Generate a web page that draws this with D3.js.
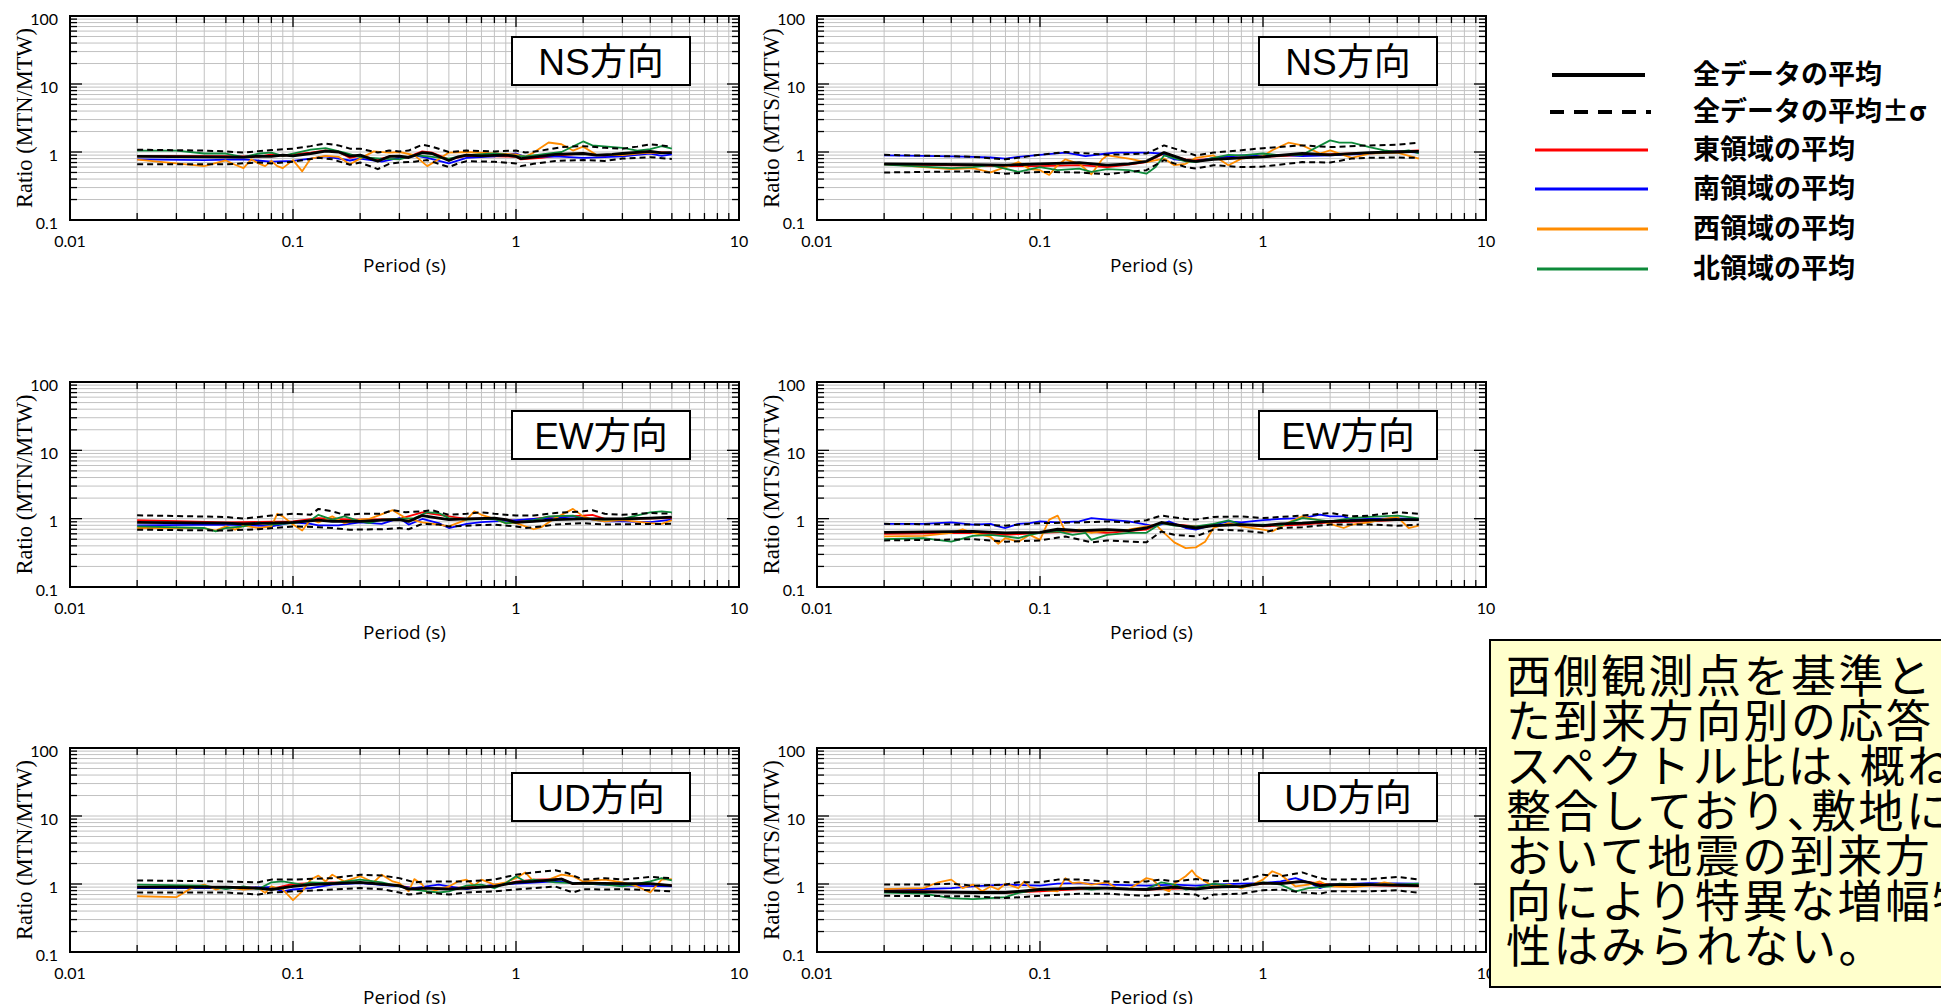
<!DOCTYPE html>
<html><head><meta charset="utf-8">
<script src="https://cdn.jsdelivr.net/npm/d3@7"></script>
<style>
html,body{margin:0;padding:0;background:#fff;}
svg{display:block;}
</style></head><body>
<svg id="c" width="1941" height="1004"></svg>
<script>
// ---------------- DATA (period [s], ratio) ----------------
const xTickVals = [0.01, 0.1, 1, 10];
const xTickLabels = ["0.01", "0.1", "1", "10"];
const yTickVals = [0.1, 1, 10, 100];
const yTickLabels = ["0.1", "1", "10", "100"];
const directions = ["NS方向", "EW方向", "UD方向"];
const yTitles = ["Ratio (MTN/MTW)", "Ratio (MTS/MTW)"];
const xTitle = "Period (s)";
const legendLabels = ["全データの平均", "全データの平均±σ", "東領域の平均", "南領域の平均", "西領域の平均", "北領域の平均"];
const noteLines = ["西側観測点を基準とし", "た到来方向別の応答", "スペクトル比は、概ね", "整合しており、敷地に", "おいて地震の到来方", "向により特異な増幅特", "性はみられない。"];

// NS, MTN/MTW
const nsN_mean = [[0.02,0.86],[0.04,0.85],[0.06,0.84],[0.07,0.87],[0.08,0.86],[0.09,0.9],[0.1,0.88],[0.12,0.95],[0.14,1.03],[0.16,1.0],[0.18,0.87],[0.2,0.9],[0.24,0.73],[0.27,0.86],[0.3,0.87],[0.33,0.83],[0.38,0.98],[0.42,0.95],[0.5,0.75],[0.55,0.85],[0.6,0.9],[0.7,0.88],[0.8,0.89],[0.9,0.9],[1.0,0.86],[1.05,0.8],[1.2,0.84],[1.5,0.92],[2.0,0.95],[2.3,0.9],[2.7,0.92],[3.0,0.95],[4.0,1.02],[4.5,0.97],[5.0,0.98]];
const nsN_plus = [[0.02,1.08],[0.04,1.05],[0.05,1.02],[0.06,0.98],[0.07,1.03],[0.08,1.07],[0.1,1.12],[0.12,1.22],[0.14,1.33],[0.16,1.25],[0.18,1.12],[0.2,1.12],[0.24,0.98],[0.27,1.05],[0.3,1.02],[0.33,1.05],[0.38,1.28],[0.42,1.2],[0.5,1.0],[0.6,1.05],[0.8,1.02],[1.0,1.05],[1.1,0.98],[1.3,1.05],[1.6,1.18],[2.0,1.22],[2.5,1.15],[3.0,1.12],[3.5,1.2],[4.0,1.3],[4.5,1.25],[5.0,1.2]];
const nsN_minus = [[0.02,0.66],[0.05,0.66],[0.07,0.7],[0.08,0.68],[0.1,0.72],[0.13,0.82],[0.15,0.78],[0.18,0.65],[0.2,0.7],[0.24,0.56],[0.27,0.67],[0.3,0.7],[0.35,0.72],[0.4,0.76],[0.5,0.6],[0.55,0.68],[0.6,0.73],[0.8,0.72],[1.0,0.68],[1.05,0.62],[1.2,0.67],[1.5,0.74],[2.0,0.76],[2.5,0.74],[3.0,0.8],[4.0,0.84],[5.0,0.79]];
const nsN_east = [[0.02,0.88],[0.05,0.87],[0.07,0.85],[0.08,0.92],[0.09,0.88],[0.1,0.92],[0.12,0.98],[0.14,1.06],[0.16,1.0],[0.18,0.82],[0.2,0.88],[0.24,0.78],[0.28,0.88],[0.32,0.82],[0.38,1.02],[0.42,0.98],[0.5,0.78],[0.6,0.88],[0.8,0.86],[1.0,0.85],[1.05,0.78],[1.3,0.82],[1.6,0.9],[2.0,0.95],[2.5,0.88],[3.0,0.92],[4.0,1.0],[5.0,0.98]];
const nsN_south = [[0.02,0.78],[0.04,0.76],[0.06,0.78],[0.08,0.72],[0.1,0.74],[0.12,0.8],[0.14,0.86],[0.18,0.75],[0.2,0.8],[0.25,0.72],[0.3,0.82],[0.36,0.88],[0.4,0.82],[0.5,0.68],[0.6,0.82],[0.8,0.86],[1.0,0.95],[1.1,0.85],[1.5,0.86],[2.0,0.82],[2.5,0.84],[3.0,0.86],[4.0,0.95],[4.5,0.88],[5.0,0.92]];
const nsN_west = [[0.02,0.77],[0.03,0.68],[0.04,0.62],[0.05,0.75],[0.055,0.65],[0.06,0.58],[0.065,0.78],[0.07,0.68],[0.075,0.62],[0.08,0.74],[0.085,0.62],[0.09,0.58],[0.1,0.76],[0.11,0.52],[0.12,0.8],[0.14,0.88],[0.16,0.85],[0.18,0.66],[0.2,0.8],[0.23,1.02],[0.27,0.98],[0.3,1.0],[0.35,0.9],[0.4,0.62],[0.45,0.78],[0.5,0.98],[0.6,1.0],[0.8,0.95],[1.0,0.92],[1.1,0.85],[1.2,0.98],[1.4,1.38],[1.6,1.3],[1.8,1.05],[2.0,1.2],[2.3,0.9],[3.0,0.9],[3.5,0.95],[4.0,0.98],[5.0,0.97]];
const nsN_north = [[0.02,1.05],[0.03,1.05],[0.04,0.95],[0.05,0.95],[0.06,0.84],[0.07,0.95],[0.08,0.98],[0.09,0.88],[0.1,0.95],[0.12,1.08],[0.14,1.14],[0.17,0.98],[0.2,0.84],[0.25,0.8],[0.3,0.78],[0.35,0.9],[0.4,0.86],[0.5,0.8],[0.6,0.9],[0.8,0.95],[1.0,0.88],[1.1,0.86],[1.3,0.92],[1.6,1.0],[2.0,1.43],[2.2,1.25],[3.0,1.15],[3.5,1.05],[4.0,1.1],[4.5,1.22],[5.0,1.12]];

// NS, MTS/MTW
const nsS_mean = [[0.02,0.67],[0.05,0.65],[0.07,0.64],[0.1,0.67],[0.15,0.7],[0.2,0.64],[0.25,0.67],[0.3,0.73],[0.36,0.98],[0.45,0.76],[0.5,0.73],[0.6,0.78],[0.8,0.82],[1.0,0.85],[1.5,0.95],[2.0,0.91],[3.0,0.98],[4.0,1.0],[5.0,1.02]];
const nsS_plus = [[0.02,0.91],[0.05,0.85],[0.07,0.78],[0.1,0.91],[0.13,1.0],[0.2,0.91],[0.3,0.95],[0.36,1.25],[0.45,1.0],[0.5,0.89],[0.6,0.98],[0.8,1.06],[1.0,1.14],[1.5,1.25],[2.0,1.18],[3.0,1.25],[4.0,1.28],[5.0,1.37]];
const nsS_minus = [[0.02,0.5],[0.05,0.52],[0.07,0.48],[0.1,0.51],[0.15,0.5],[0.2,0.47],[0.25,0.51],[0.3,0.54],[0.36,0.76],[0.45,0.6],[0.5,0.57],[0.6,0.64],[0.8,0.6],[1.0,0.61],[1.5,0.71],[2.0,0.7],[2.5,0.8],[3.0,0.82],[4.0,0.83],[5.0,0.82]];
const nsS_east = [[0.02,0.66],[0.05,0.63],[0.07,0.62],[0.1,0.62],[0.15,0.64],[0.2,0.6],[0.25,0.65],[0.3,0.71],[0.36,0.95],[0.45,0.78],[0.5,0.76],[0.6,0.8],[0.8,0.83],[1.0,0.85],[1.5,0.9],[2.0,0.93],[3.0,0.97],[4.0,1.02],[5.0,1.06]];
const nsS_south = [[0.02,0.89],[0.03,0.88],[0.04,0.86],[0.05,0.85],[0.06,0.83],[0.07,0.8],[0.08,0.85],[0.1,0.91],[0.13,0.98],[0.16,0.87],[0.2,0.95],[0.22,0.98],[0.3,0.98],[0.35,0.95],[0.4,0.78],[0.5,0.73],[0.6,0.82],[0.8,0.89],[1.0,0.87],[1.2,0.91],[1.5,0.87],[2.0,0.89],[3.0,0.95],[4.0,1.02],[5.0,0.98]];
const nsS_west = [[0.02,0.67],[0.03,0.6],[0.04,0.56],[0.05,0.58],[0.06,0.5],[0.07,0.6],[0.08,0.71],[0.09,0.56],[0.1,0.54],[0.11,0.46],[0.12,0.64],[0.13,0.78],[0.15,0.67],[0.17,0.47],[0.19,0.78],[0.2,0.89],[0.25,0.8],[0.3,0.71],[0.36,0.8],[0.4,0.64],[0.45,0.67],[0.5,0.82],[0.6,0.89],[0.7,0.64],[0.8,0.8],[1.0,0.87],[1.1,1.06],[1.3,1.37],[1.5,1.25],[1.8,0.95],[2.0,1.06],[2.5,0.82],[3.0,0.95],[4.0,0.98],[5.0,0.8]];
const nsS_north = [[0.02,0.65],[0.04,0.58],[0.05,0.6],[0.06,0.64],[0.08,0.51],[0.1,0.6],[0.12,0.54],[0.15,0.57],[0.17,0.51],[0.2,0.56],[0.25,0.54],[0.3,0.48],[0.33,0.6],[0.36,0.89],[0.45,0.73],[0.5,0.71],[0.6,0.82],[0.7,0.91],[0.8,0.89],[1.0,0.95],[1.2,0.89],[1.5,0.91],[2.0,1.48],[2.2,1.37],[2.5,1.37],[3.0,1.18],[3.5,1.06],[4.0,1.0],[4.5,1.06],[5.0,0.95]];

// EW, MTN/MTW
const ewN_mean = [[0.02,0.88],[0.05,0.86],[0.06,0.84],[0.1,0.88],[0.13,0.95],[0.15,0.91],[0.2,0.91],[0.25,0.95],[0.3,0.97],[0.33,0.91],[0.38,1.11],[0.45,1.02],[0.5,0.97],[0.6,0.99],[0.8,1.02],[0.9,0.97],[1.0,0.88],[1.2,0.91],[1.5,0.97],[2.0,0.99],[3.0,0.99],[4.0,1.02],[5.0,1.05]];
const ewN_plus = [[0.02,1.12],[0.05,1.06],[0.06,1.0],[0.08,1.11],[0.1,1.18],[0.12,1.14],[0.13,1.39],[0.15,1.28],[0.17,1.14],[0.2,1.18],[0.25,1.18],[0.28,1.33],[0.32,1.24],[0.38,1.28],[0.42,1.33],[0.5,1.14],[0.6,1.18],[0.7,1.24],[0.8,1.18],[1.0,1.11],[1.2,1.11],[1.5,1.21],[2.0,1.28],[2.2,1.33],[2.5,1.18],[3.0,1.14],[4.0,1.21],[5.0,1.18]];
const ewN_minus = [[0.02,0.69],[0.05,0.67],[0.07,0.7],[0.1,0.77],[0.13,0.75],[0.15,0.73],[0.18,0.69],[0.25,0.7],[0.3,0.73],[0.33,0.7],[0.38,0.84],[0.45,0.82],[0.5,0.77],[0.6,0.79],[0.8,0.82],[1.0,0.77],[1.1,0.73],[1.3,0.77],[1.5,0.82],[2.0,0.86],[2.5,0.82],[3.0,0.83],[5.0,0.84]];
const ewN_east = [[0.02,0.95],[0.05,0.88],[0.07,0.9],[0.1,0.91],[0.13,1.02],[0.15,0.99],[0.2,0.97],[0.3,0.99],[0.38,1.24],[0.5,1.08],[0.6,0.99],[0.8,1.01],[1.0,0.93],[1.5,1.08],[2.0,1.11],[2.2,1.14],[2.5,0.99],[3.0,0.99],[5.0,1.02]];
const ewN_south = [[0.02,0.8],[0.05,0.82],[0.07,0.79],[0.08,0.77],[0.1,0.88],[0.12,0.84],[0.13,0.8],[0.16,0.8],[0.2,0.88],[0.25,0.84],[0.3,1.02],[0.33,0.82],[0.38,0.99],[0.45,0.86],[0.5,0.73],[0.6,0.84],[0.7,0.89],[0.8,0.91],[1.0,0.95],[1.2,0.99],[1.5,1.02],[1.8,1.08],[2.0,1.02],[2.5,0.91],[3.0,0.91],[4.0,0.89],[5.0,0.97]];
const ewN_west = [[0.02,0.73],[0.04,0.73],[0.045,0.67],[0.05,0.77],[0.055,0.69],[0.06,0.79],[0.07,0.73],[0.08,0.77],[0.085,1.18],[0.09,1.08],[0.1,0.82],[0.11,0.67],[0.12,0.97],[0.13,0.88],[0.15,1.08],[0.17,0.86],[0.2,0.97],[0.22,0.99],[0.28,1.33],[0.32,1.02],[0.38,0.88],[0.45,0.82],[0.5,0.77],[0.6,0.97],[0.65,1.28],[0.7,1.14],[0.8,0.99],[0.9,0.86],[1.0,0.86],[1.2,0.7],[1.3,0.75],[1.5,1.02],[1.8,1.39],[2.0,1.08],[2.2,0.97],[2.5,0.91],[3.0,0.95],[4.0,0.86],[4.5,0.84],[5.0,0.95]];
const ewN_north = [[0.02,0.77],[0.04,0.73],[0.045,0.65],[0.05,0.73],[0.06,0.77],[0.07,0.88],[0.08,0.82],[0.1,0.86],[0.12,0.95],[0.13,1.14],[0.15,0.97],[0.17,1.08],[0.2,0.91],[0.22,0.86],[0.25,0.97],[0.3,0.99],[0.35,1.02],[0.4,1.24],[0.45,1.21],[0.5,1.02],[0.6,0.97],[0.8,0.99],[0.9,0.86],[1.0,0.88],[1.2,0.95],[1.4,1.08],[1.8,1.11],[2.0,0.99],[2.5,0.97],[3.0,0.99],[4.0,1.24],[4.5,1.28],[5.0,1.24]];

// EW, MTS/MTW
const ewS_mean = [[0.02,0.63],[0.05,0.65],[0.07,0.62],[0.1,0.63],[0.12,0.7],[0.15,0.67],[0.2,0.69],[0.25,0.67],[0.3,0.73],[0.35,0.88],[0.4,0.82],[0.5,0.73],[0.6,0.79],[0.8,0.82],[1.0,0.79],[1.2,0.84],[1.5,0.86],[2.0,0.91],[3.0,0.95],[4.0,0.97],[5.0,0.97]];
const ewS_plus = [[0.02,0.84],[0.05,0.82],[0.07,0.79],[0.1,0.86],[0.15,0.88],[0.2,0.91],[0.25,0.88],[0.3,0.95],[0.35,1.11],[0.45,0.99],[0.5,0.97],[0.6,1.06],[0.8,1.08],[1.0,1.02],[1.5,1.11],[2.0,1.21],[2.5,1.08],[3.0,1.11],[4.0,1.24],[5.0,1.18]];
const ewS_minus = [[0.02,0.48],[0.05,0.5],[0.07,0.46],[0.1,0.48],[0.13,0.55],[0.17,0.45],[0.2,0.48],[0.3,0.45],[0.35,0.65],[0.4,0.58],[0.5,0.55],[0.6,0.69],[0.8,0.67],[1.0,0.62],[1.2,0.73],[1.5,0.75],[2.0,0.82],[3.0,0.82],[4.0,0.79],[5.0,0.82]];
const ewS_east = [[0.02,0.6],[0.05,0.62],[0.07,0.58],[0.1,0.62],[0.15,0.65],[0.2,0.62],[0.3,0.69],[0.35,0.86],[0.5,0.77],[0.8,0.82],[1.0,0.77],[1.5,0.82],[2.0,0.88],[3.0,0.91],[5.0,0.99]];
const ewS_south = [[0.02,0.84],[0.03,0.84],[0.04,0.88],[0.05,0.82],[0.06,0.84],[0.065,0.77],[0.07,0.73],[0.08,0.84],[0.09,0.86],[0.1,0.91],[0.12,0.88],[0.15,0.91],[0.17,1.02],[0.2,0.97],[0.25,0.91],[0.3,0.82],[0.33,0.77],[0.38,0.91],[0.45,0.73],[0.5,0.69],[0.6,0.82],[0.7,0.91],[0.8,0.88],[1.0,0.95],[1.2,0.99],[1.5,1.02],[1.8,1.15],[2.0,1.08],[2.3,1.08],[2.5,0.97],[3.0,0.99],[4.0,1.01],[5.0,0.99]];
const ewS_west = [[0.02,0.55],[0.03,0.56],[0.04,0.62],[0.045,0.7],[0.05,0.62],[0.06,0.54],[0.065,0.43],[0.07,0.52],[0.08,0.46],[0.09,0.58],[0.1,0.49],[0.11,0.97],[0.12,1.11],[0.13,0.65],[0.15,0.69],[0.17,0.62],[0.2,0.67],[0.25,0.69],[0.3,0.77],[0.33,0.82],[0.36,0.62],[0.4,0.45],[0.45,0.37],[0.5,0.38],[0.55,0.46],[0.6,0.73],[0.7,0.86],[0.8,0.77],[1.0,0.69],[1.1,0.65],[1.3,0.88],[1.5,1.08],[1.8,0.945],[2.0,0.84],[2.3,0.73],[2.5,0.82],[3.0,0.88],[3.5,0.99],[4.0,1.06],[4.5,0.73],[5.0,0.79]];
const ewS_north = [[0.02,0.5],[0.03,0.52],[0.04,0.46],[0.05,0.56],[0.06,0.58],[0.07,0.55],[0.08,0.52],[0.09,0.58],[0.1,0.62],[0.12,0.65],[0.14,0.58],[0.16,0.62],[0.17,0.49],[0.2,0.58],[0.25,0.62],[0.3,0.62],[0.35,0.86],[0.4,0.79],[0.5,0.77],[0.6,0.84],[0.7,0.945],[0.8,0.82],[1.0,0.82],[1.2,0.79],[1.5,1.02],[2.0,0.91],[2.5,1.02],[3.0,1.06],[4.0,1.11],[5.0,1.01]];

// UD, MTN/MTW
const udN_mean = [[0.02,0.9],[0.05,0.9],[0.07,0.87],[0.08,0.83],[0.1,0.92],[0.12,0.98],[0.15,1.01],[0.2,1.06],[0.3,0.945],[0.33,0.84],[0.4,0.87],[0.5,0.84],[0.6,0.87],[0.8,0.92],[1.0,1.06],[1.2,1.09],[1.5,1.16],[1.6,1.18],[1.8,1.01],[2.0,1.03],[3.0,1.01],[4.0,1.01],[5.0,0.945]];
const udN_plus = [[0.02,1.13],[0.05,1.09],[0.07,1.06],[0.08,1.16],[0.1,1.16],[0.15,1.22],[0.2,1.37],[0.25,1.33],[0.3,1.22],[0.35,1.06],[0.4,1.09],[0.5,1.09],[0.6,1.09],[0.8,1.16],[1.0,1.37],[1.2,1.48],[1.5,1.59],[1.7,1.45],[2.0,1.16],[2.5,1.22],[3.0,1.16],[4.0,1.27],[5.0,1.22]];
const udN_minus = [[0.02,0.75],[0.05,0.75],[0.07,0.7],[0.08,0.75],[0.1,0.78],[0.15,0.83],[0.2,0.87],[0.25,0.84],[0.3,0.75],[0.33,0.7],[0.4,0.75],[0.5,0.7],[0.6,0.75],[0.8,0.78],[1.0,0.83],[1.2,0.87],[1.5,0.92],[1.8,0.75],[2.0,0.84],[2.5,0.83],[3.0,0.84],[4.0,0.81],[5.0,0.78]];
const udN_east = [[0.02,0.9],[0.05,0.9],[0.07,0.88],[0.08,0.85],[0.1,1.0],[0.15,1.06],[0.2,1.04],[0.3,0.95],[0.35,0.86],[0.5,0.87],[0.6,0.9],[0.8,0.93],[1.0,1.08],[1.2,1.16],[1.5,1.18],[1.6,1.2],[1.8,1.0],[2.0,1.03],[3.0,1.0],[4.0,1.0],[5.0,0.95]];
const udN_south = [[0.02,0.87],[0.05,0.87],[0.08,0.9],[0.09,0.78],[0.1,0.83],[0.12,0.87],[0.15,0.98],[0.2,1.03],[0.3,0.92],[0.35,0.87],[0.45,0.98],[0.5,0.92],[0.6,0.84],[0.8,0.98],[1.0,1.01],[1.5,1.09],[2.0,1.01],[3.0,0.945],[5.0,0.92]];
const udN_west = [[0.02,0.66],[0.03,0.64],[0.035,0.87],[0.04,0.98],[0.045,0.83],[0.05,0.9],[0.06,0.83],[0.07,0.87],[0.075,0.74],[0.08,0.92],[0.09,0.83],[0.1,0.58],[0.11,0.78],[0.12,1.16],[0.13,1.33],[0.14,1.09],[0.15,1.37],[0.17,1.09],[0.2,1.3],[0.23,1.06],[0.25,1.37],[0.28,1.09],[0.3,1.03],[0.33,0.78],[0.35,1.18],[0.38,0.98],[0.4,0.74],[0.45,0.83],[0.5,0.92],[0.55,1.09],[0.6,1.16],[0.65,0.945],[0.7,1.16],[0.8,0.98],[0.9,1.06],[1.0,1.22],[1.1,1.48],[1.2,1.09],[1.4,1.16],[1.6,1.37],[1.8,1.3],[2.0,1.09],[2.5,1.16],[3.0,1.06],[3.5,0.92],[4.0,0.75],[4.5,1.16],[5.0,1.18]];
const udN_north = [[0.02,0.98],[0.04,0.945],[0.05,0.84],[0.06,0.92],[0.07,0.84],[0.08,1.06],[0.09,1.09],[0.1,1.03],[0.11,0.98],[0.12,1.06],[0.15,1.03],[0.2,1.16],[0.25,1.06],[0.3,0.92],[0.35,0.83],[0.4,0.78],[0.45,0.75],[0.5,0.78],[0.6,0.945],[0.7,0.98],[0.8,0.87],[0.9,1.03],[1.0,1.3],[1.1,1.09],[1.2,1.16],[1.5,1.06],[2.0,1.01],[2.5,0.98],[3.0,0.92],[4.0,1.09],[4.5,1.22],[5.0,1.13]];

// UD, MTS/MTW
const udS_mean = [[0.02,0.78],[0.05,0.75],[0.07,0.75],[0.1,0.83],[0.15,0.87],[0.2,0.87],[0.25,0.84],[0.3,0.83],[0.35,0.87],[0.4,0.9],[0.5,0.84],[0.6,0.9],[0.8,0.92],[1.0,1.03],[1.2,1.01],[1.5,1.09],[1.6,1.06],[1.8,0.945],[2.0,0.98],[3.0,0.98],[5.0,0.945]];
const udS_plus = [[0.02,0.98],[0.03,0.98],[0.04,1.01],[0.05,0.945],[0.07,0.98],[0.08,1.06],[0.1,1.06],[0.12,1.16],[0.15,1.16],[0.2,1.09],[0.25,1.06],[0.3,1.09],[0.35,1.16],[0.4,1.09],[0.5,1.18],[0.6,1.09],[0.8,1.13],[1.0,1.37],[1.2,1.3],[1.5,1.48],[1.8,1.22],[2.0,1.16],[3.0,1.18],[4.0,1.27],[5.0,1.16]];
const udS_minus = [[0.02,0.67],[0.05,0.66],[0.07,0.62],[0.1,0.67],[0.15,0.72],[0.2,0.72],[0.3,0.67],[0.4,0.72],[0.5,0.7],[0.55,0.6],[0.6,0.7],[0.8,0.72],[1.0,0.81],[1.2,0.83],[1.5,0.75],[1.8,0.72],[2.0,0.78],[3.0,0.78],[4.0,0.81],[5.0,0.74]];
const udS_east = [[0.02,0.81],[0.05,0.75],[0.07,0.74],[0.1,0.78],[0.15,0.84],[0.2,0.87],[0.3,0.83],[0.5,0.87],[0.8,0.92],[1.0,1.01],[1.5,1.09],[2.0,0.98],[5.0,0.92]];
const udS_south = [[0.02,0.83],[0.03,0.84],[0.04,0.87],[0.05,0.92],[0.07,0.98],[0.1,0.945],[0.12,1.01],[0.15,1.03],[0.2,0.98],[0.3,0.945],[0.4,0.98],[0.5,0.945],[0.6,0.98],[0.8,1.01],[1.0,1.03],[1.2,1.09],[1.4,1.22],[1.6,1.06],[1.8,0.87],[2.0,0.98],[3.0,1.03],[5.0,1.01]];
const udS_west = [[0.02,0.84],[0.03,0.87],[0.035,1.06],[0.04,1.16],[0.045,0.87],[0.05,0.98],[0.055,0.78],[0.06,0.92],[0.065,0.83],[0.07,1.01],[0.08,0.87],[0.085,1.09],[0.09,0.9],[0.1,0.83],[0.12,0.78],[0.13,1.22],[0.14,1.03],[0.15,1.06],[0.17,0.98],[0.2,1.06],[0.22,0.87],[0.25,0.84],[0.3,1.22],[0.32,1.16],[0.35,0.87],[0.38,0.78],[0.4,1.01],[0.45,1.3],[0.48,1.59],[0.5,1.33],[0.55,1.09],[0.6,0.92],[0.7,0.98],[0.8,0.87],[0.9,0.98],[1.0,1.16],[1.1,1.54],[1.2,1.37],[1.4,0.92],[1.6,0.98],[1.8,1.09],[2.0,0.92],[2.5,0.9],[3.0,0.945],[3.5,1.06],[4.0,0.98],[5.0,0.98]];
const udS_north = [[0.02,0.75],[0.03,0.72],[0.04,0.62],[0.05,0.6],[0.06,0.62],[0.07,0.64],[0.08,0.74],[0.1,0.83],[0.12,0.84],[0.15,0.87],[0.17,0.83],[0.2,0.87],[0.3,0.84],[0.35,1.06],[0.4,0.98],[0.45,0.83],[0.5,0.87],[0.6,1.01],[0.7,0.945],[0.8,0.9],[1.0,1.06],[1.2,0.98],[1.4,0.78],[1.6,0.87],[2.0,0.92],[2.2,1.01],[3.0,0.98],[4.0,0.98],[5.0,1.01]];

// ---------------- LAYOUT / STYLE ----------------
const svg = d3.select("#c");
const cols = [{x0:70, x1:739}, {x0:817, x1:1486}];
const rows = [{y0:16, y1:220, box:37}, {y0:382, y1:587, box:411}, {y0:748, y1:952, box:773}];

const panels = [
  {r:0, c:0, s:[nsN_east, nsN_south, nsN_west, nsN_north, nsN_plus, nsN_minus, nsN_mean]},
  {r:0, c:1, s:[nsS_east, nsS_south, nsS_west, nsS_north, nsS_plus, nsS_minus, nsS_mean]},
  {r:1, c:0, s:[ewN_east, ewN_south, ewN_west, ewN_north, ewN_plus, ewN_minus, ewN_mean]},
  {r:1, c:1, s:[ewS_east, ewS_south, ewS_west, ewS_north, ewS_plus, ewS_minus, ewS_mean]},
  {r:2, c:0, s:[udN_east, udN_south, udN_west, udN_north, udN_plus, udN_minus, udN_mean]},
  {r:2, c:1, s:[udS_east, udS_south, udS_west, udS_north, udS_plus, udS_minus, udS_mean]}
];
const styles = [
  {color:"#ff0000", w:1.8},
  {color:"#0000ff", w:1.8},
  {color:"#ff8c00", w:1.8},
  {color:"#0e8a3a", w:1.8},
  {color:"#000000", w:2.0, dash:"6,4"},
  {color:"#000000", w:2.0, dash:"6,4"},
  {color:"#000000", w:2.8}
];

function gridVals(lo, hi) {
  const out = [];
  for (let d = lo; d < hi * 0.999; d *= 10) {
    for (let k = 1; k <= 9; k++) out.push({v: +(k * d).toPrecision(6), major: k === 1});
  }
  out.push({v: hi, major: true});
  return out;
}
const xGrid = gridVals(0.01, 10);
const yGrid = gridVals(0.1, 100);

const tickFont = "Lato, 'Open Sans', sans-serif";

panels.forEach((p, i) => {
  const C = cols[p.c], R = rows[p.r];
  const x = d3.scaleLog().domain([0.01, 10]).range([C.x0, C.x1]);
  const y = d3.scaleLog().domain([0.1, 100]).range([R.y1, R.y0]);
  const g = svg.append("g");

  // grid
  g.append("g").selectAll("line").data(xGrid.filter(d => d.v > 0.01 && d.v < 10)).join("line")
    .attr("x1", d => x(d.v)).attr("x2", d => x(d.v)).attr("y1", R.y0).attr("y2", R.y1)
    .attr("stroke", "#c2c2c2").attr("stroke-width", 1);
  g.append("g").selectAll("line").data(yGrid.filter(d => d.v > 0.1 && d.v < 100)).join("line")
    .attr("y1", d => y(d.v)).attr("y2", d => y(d.v)).attr("x1", C.x0).attr("x2", C.x1)
    .attr("stroke", "#c2c2c2").attr("stroke-width", 1);

  // ticks (inward, all four sides)
  const tk = g.append("g").attr("stroke", "#000").attr("stroke-width", 1.3);
  xGrid.filter(d => d.v > 0.01 && d.v < 10).forEach(d => {
    const L = d.major ? 11 : 7;
    tk.append("line").attr("x1", x(d.v)).attr("x2", x(d.v)).attr("y1", R.y1).attr("y2", R.y1 - L);
    tk.append("line").attr("x1", x(d.v)).attr("x2", x(d.v)).attr("y1", R.y0).attr("y2", R.y0 + L);
  });
  yGrid.filter(d => d.v > 0.1 && d.v < 100).forEach(d => {
    const L = d.major ? 12 : 7;
    tk.append("line").attr("y1", y(d.v)).attr("y2", y(d.v)).attr("x1", C.x0).attr("x2", C.x0 + L);
    tk.append("line").attr("y1", y(d.v)).attr("y2", y(d.v)).attr("x1", C.x1).attr("x2", C.x1 - L);
  });

  // series
  const line = d3.line().x(d => x(d[0])).y(d => y(d[1]));
  p.s.forEach((data, k) => {
    const st = styles[k];
    g.append("path").attr("d", line(data)).attr("fill", "none")
      .attr("stroke", st.color).attr("stroke-width", st.w)
      .attr("stroke-dasharray", st.dash || null).attr("stroke-linejoin", "round");
  });

  // frame
  g.append("rect").attr("x", C.x0).attr("y", R.y0).attr("width", C.x1 - C.x0).attr("height", R.y1 - R.y0)
    .attr("fill", "none").attr("stroke", "#000").attr("stroke-width", 2);

  // tick labels
  g.append("g").selectAll("text").data(xTickVals).join("text")
    .attr("x", d => x(d)).attr("y", R.y1 + 20).attr("text-anchor", "middle").attr("dominant-baseline", "central")
    .attr("font-family", tickFont).attr("font-size", 16).text((d, j) => xTickLabels[j]);
  g.append("g").selectAll("text").data(yTickVals).join("text")
    .attr("x", C.x0 - 12).attr("y", d => y(d) + 2).attr("text-anchor", "end").attr("dominant-baseline", "central")
    .attr("font-family", tickFont).attr("font-size", 16).text((d, j) => yTickLabels[j]);

  // axis titles
  g.append("text").attr("x", (C.x0 + C.x1) / 2).attr("y", R.y1 + 45).attr("text-anchor", "middle")
    .attr("dominant-baseline", "central").attr("font-family", "'Open Sans', sans-serif").attr("font-size", 19)
    .text(xTitle);
  g.append("text").attr("transform", `translate(${C.x0 - 38},${(R.y0 + R.y1) / 2}) rotate(-90)`)
    .attr("text-anchor", "middle").attr("font-family", "'Liberation Serif', 'DejaVu Serif', serif")
    .attr("font-size", 24).attr("textLength", 180).attr("lengthAdjust", "spacingAndGlyphs")
    .text(yTitles[p.c]);

  // direction box
  const bx = C.x0 + 442, by = R.box;
  g.append("rect").attr("x", bx).attr("y", by).attr("width", 178).attr("height", 48)
    .attr("fill", "#fff").attr("stroke", "#000").attr("stroke-width", 2);
  g.append("text").attr("x", bx + 89).attr("y", by + 25).attr("text-anchor", "middle").attr("dominant-baseline", "central")
    .attr("font-family", "'Liberation Sans', 'Noto Sans CJK JP', sans-serif").attr("font-size", 37)
    .text(directions[p.r]);
});

// ---------------- LEGEND ----------------
const legY = [75, 112, 150, 189, 229, 269];
const legStyles = [
  {color:"#000", w:4, x1:1552, x2:1645},
  {color:"#000", w:4, x1:1550, x2:1651, dash:"14,10"},
  {color:"#ff0000", w:3, x1:1535, x2:1648},
  {color:"#0000ff", w:3, x1:1535, x2:1648},
  {color:"#ff8c00", w:3, x1:1537, x2:1648},
  {color:"#0e8a3a", w:3, x1:1537, x2:1648}
];
const leg = svg.append("g");
legendLabels.forEach((lab, i) => {
  const st = legStyles[i];
  leg.append("line").attr("x1", st.x1).attr("x2", st.x2).attr("y1", legY[i]).attr("y2", legY[i])
    .attr("stroke", st.color).attr("stroke-width", st.w).attr("stroke-dasharray", st.dash || null);
  leg.append("text").attr("x", 1693).attr("y", legY[i] - 3).attr("dominant-baseline", "central")
    .attr("font-family", "'Noto Sans CJK JP', sans-serif").attr("font-weight", 700).attr("font-size", 27)
    .text(lab);
});

// ---------------- NOTE BOX ----------------
const note = svg.append("g");
note.append("rect").attr("x", 1490).attr("y", 640).attr("width", 470).attr("height", 347)
  .attr("fill", "#ffffcc").attr("stroke", "#000").attr("stroke-width", 2);
noteLines.forEach((t, i) => {
  const txt = note.append("text").attr("x", 1506).attr("y", 673 + i * 45).attr("dominant-baseline", "central")
    .attr("font-family", "'Noto Sans CJK JP', sans-serif").attr("font-size", 45)
    .attr("letter-spacing", 2.5);
  const parts = t.split("、");
  parts.forEach((part, j) => {
    const ts = txt.append("tspan").text(part + (j < parts.length - 1 ? "、" : ""));
    if (j > 0) ts.attr("dx", -23);
  });
});
</script>
</body></html>
